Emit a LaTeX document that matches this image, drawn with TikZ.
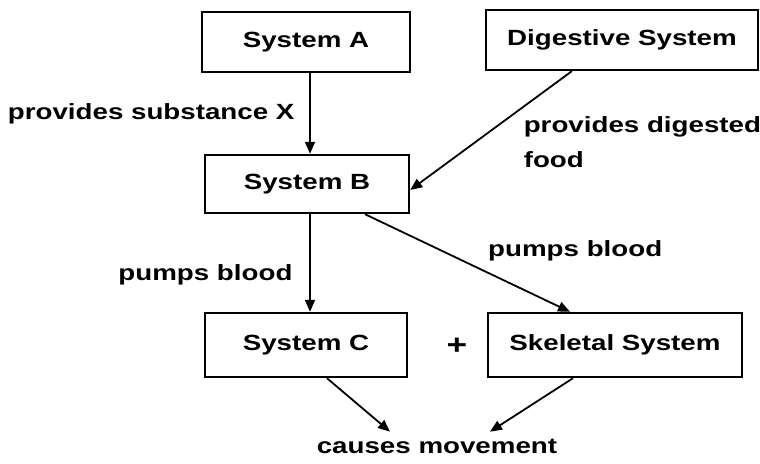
\documentclass[tikz,border=0pt]{standalone}
\usepackage{fontspec}
\newfontfamily\diagfont[FakeStretch=1.26]{Liberation Sans}
\usetikzlibrary{arrows.meta, positioning}
\tikzset{
  sysbox/.style = {draw, line width=1.2pt, minimum height=30pt, inner sep=2pt},
  lbl/.style    = {font=\diagfont\bfseries\fontsize{11}{17.5}\selectfont},
  arr/.style    = {-{Triangle[length=6pt, width=5pt]}, line width=0.9pt}
}
\begin{document}
\begin{tikzpicture}[x=0.5pt, y=-0.5pt, every node/.append style={lbl}]
  \useasboundingbox (0,0) rectangle (760,463);
  \node[sysbox, minimum width=104pt] (sysA) at (306,42)  {System A};
  \node[sysbox, minimum width=136pt] (dig)  at (622,40)  {Digestive System};
  \node[sysbox, minimum width=102pt, minimum height=29pt] (sysB) at (307,184) {System B};
  \node[sysbox, minimum width=101pt, minimum height=32pt] (sysC) at (306,345) {System C};
  \node[sysbox, minimum width=127pt, minimum height=32pt] (skel) at (615,345) {Skeletal System};
  \node[font=\diagfont\bfseries\fontsize{14}{14}\selectfont] (plus) at (457,346) {+};
  \node (move) at (437,446) {causes movement};
  \draw[arr] (sysA.south -| 310,0) -- node[midway, left, xshift=-4pt]{provides substance X} (sysB.north -| 310,0);
  \draw[arr] ([xshift=43.5pt]dig.south west) -- node[pos=0.6, anchor=west, xshift=20.7pt, align=left]{provides digested\\food} ([yshift=-3pt]sysB.east);
  \draw[arr] (sysB.south -| 310,0) -- node[pos=0.62, left, xshift=-5pt]{pumps blood} (sysC.north -| 310,0);
  \draw[arr] ([xshift=29pt]sysB.south) -- node[pos=0.45, anchor=west, xshift=11.7pt, yshift=3.75pt]{pumps blood} ([xshift=-22.5pt]skel.north);
  \draw[arr] ([xshift=10.5pt]sysC.south) -- ([xshift=-23.5pt]move.north);
  \draw[arr] ([xshift=-21pt]skel.south) -- ([xshift=26.5pt]move.north);
\end{tikzpicture}
\end{document}
